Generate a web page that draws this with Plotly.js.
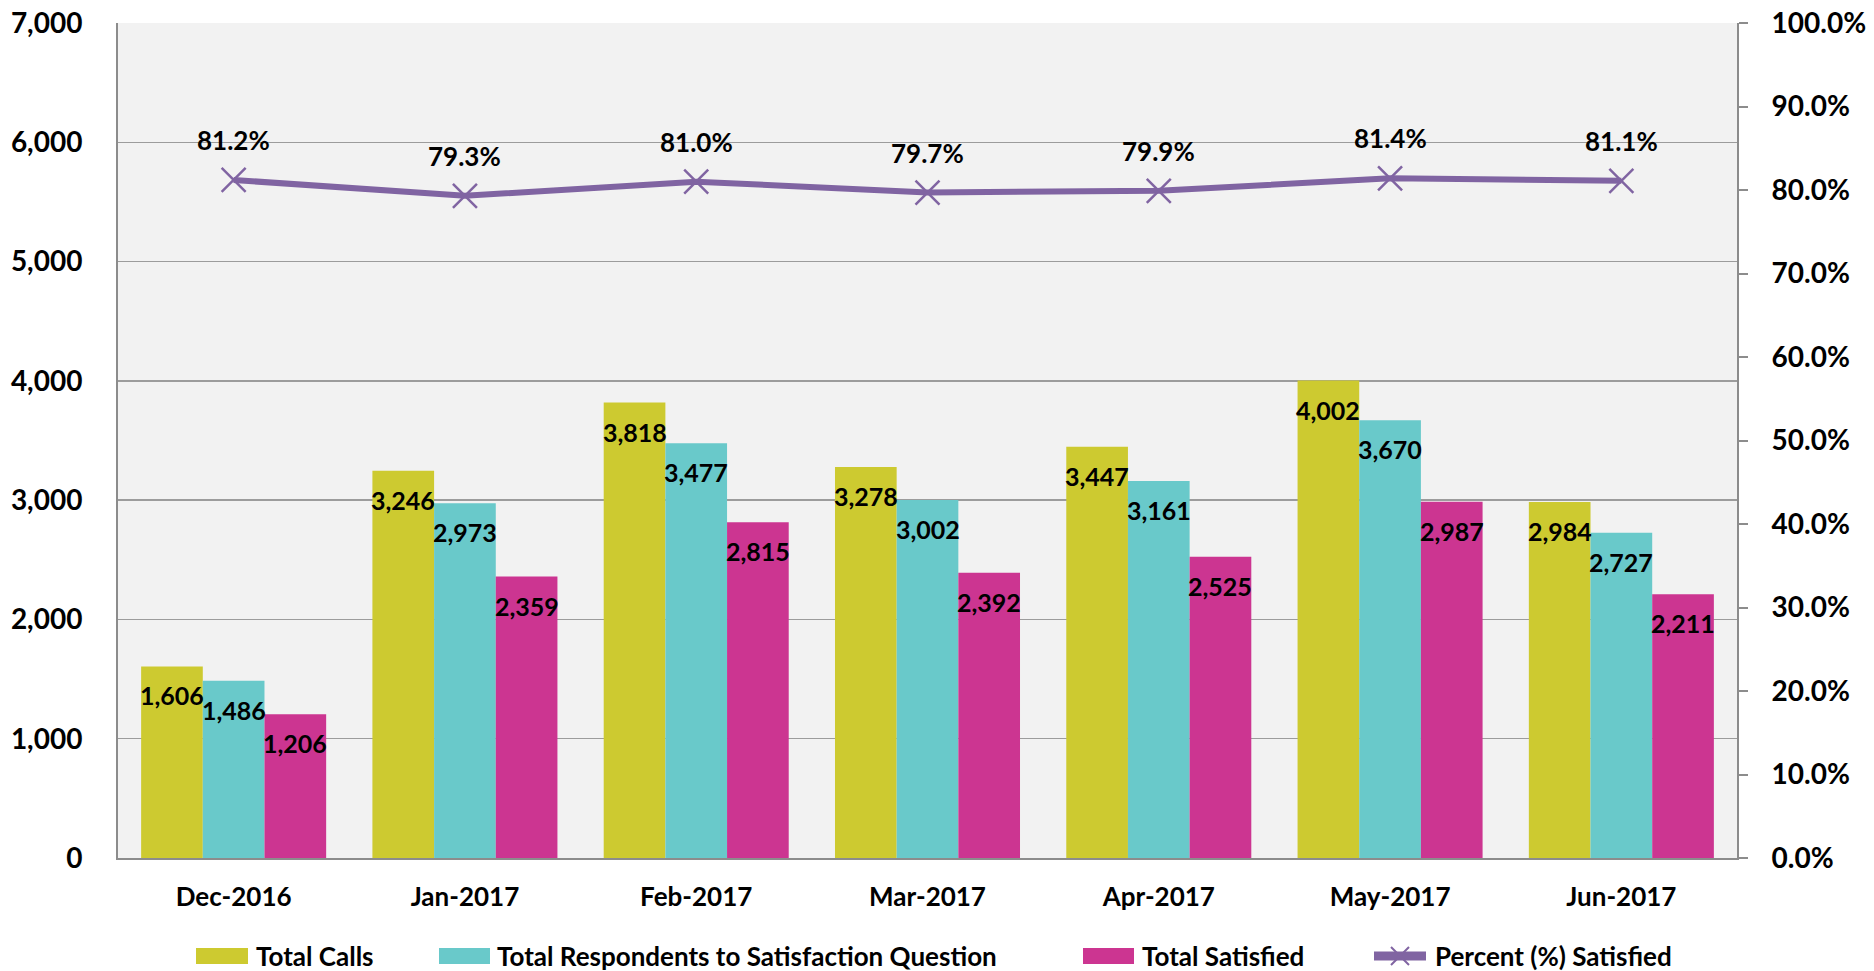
<!DOCTYPE html>
<html>
<head>
<meta charset="utf-8">
<script src="https://cdn.plot.ly/plotly-3.0.1.min.js"></script>
<style>html,body{margin:0;padding:0;background:#fff;}#chart{width:1874px;height:971px;}</style>
</head>
<body>
<div id="chart"></div>
<script>
const months = ["Dec-2016","Jan-2017","Feb-2017","Mar-2017","Apr-2017","May-2017","Jun-2017"];
const totalCalls = [1606, 3246, 3818, 3278, 3447, 4002, 2984];
const totalRespondents = [1486, 2973, 3477, 3002, 3161, 3670, 2727];
const totalSatisfied = [1206, 2359, 2815, 2392, 2525, 2987, 2211];
const percentSatisfied = [0.812, 0.793, 0.810, 0.797, 0.799, 0.814, 0.811];
const leftTicks = [0, 1000, 2000, 3000, 4000, 5000, 6000, 7000];
const rightTicks = [0, 0.1, 0.2, 0.3, 0.4, 0.5, 0.6, 0.7, 0.8, 0.9, 1.0];
const seriesNames = ["Total Calls", "Total Respondents to Satisfaction Question", "Total Satisfied", "Percent (%) Satisfied"];

const FONT = "Lato, 'Open Sans', sans-serif";
const colors = ["#CDCA30", "#69C9CA", "#CC3591"];
const PURPLE = "#8064A2";
const barValues = [totalCalls, totalRespondents, totalSatisfied];

// plot-area geometry in pixels (for the hand-placed legend)
const W = 1874, H = 971, ML = 118, MR = 137, MT = 23, MB = 113;
const PW = W - ML - MR, PH = H - MT - MB;
const px = x => (x - ML) / PW;
const py = y => (H - MB - y) / PH;

const traces = barValues.map((vals, k) => ({
  type: "bar", name: seriesNames[k], x: months, y: vals,
  marker: {color: colors[k], line: {width: 0}},
  showlegend: false
}));
traces.push({
  type: "scatter", mode: "lines+markers", name: seriesNames[3],
  x: months, y: percentSatisfied, yaxis: "y2", showlegend: false,
  line: {color: PURPLE, width: 6},
  marker: {symbol: "x-thin-open", size: 24, color: PURPLE, line: {color: PURPLE, width: 2.5}}
});

const fmt = v => v.toLocaleString("en-US");
const annotations = [];
const shapes = [];
const bargap = 0.2, n = barValues.length, bw = (1 - bargap) / n;
barValues.forEach((vals, k) => {
  vals.forEach((v, i) => {
    annotations.push({
      x: i + (k - (n - 1) / 2) * bw, y: v, xref: "x", yref: "y",
      text: fmt(v), showarrow: false, yshift: -29,
      font: {family: FONT, size: 25, color: "#000", weight: 700}
    });
  });
});
percentSatisfied.forEach((v, i) => {
  annotations.push({
    x: i, y: v, xref: "x", yref: "y2",
    text: (v * 100).toFixed(1) + "%", showarrow: false, yshift: 40,
    font: {family: FONT, size: 26, color: "#000", weight: 700}
  });
});

// Legend (drawn to match the reference swatch sizes)
const legendY = 956;
const swatches = [[196, 248, 254], [439, 490, 495], [1083, 1134, 1140]];
swatches.forEach((s, k) => {
  shapes.push({type: "rect", xref: "paper", yref: "paper",
    x0: px(s[0]), x1: px(s[1]), y0: py(legendY + 8), y1: py(legendY - 8),
    fillcolor: colors[k], line: {width: 0}, layer: "above"});
  annotations.push({xref: "paper", yref: "paper", x: px(s[2]), y: py(legendY),
    xanchor: "left", yanchor: "middle", text: seriesNames[k], showarrow: false,
    font: {family: FONT, size: 26, color: "#000", weight: 700}});
});
shapes.push({type: "line", xref: "paper", yref: "paper",
  x0: px(1374), x1: px(1426), y0: py(legendY), y1: py(legendY),
  line: {color: PURPLE, width: 9}, layer: "above"});
shapes.push({type: "path", xref: "paper", yref: "paper", xsizemode: "pixel", ysizemode: "pixel",
  xanchor: px(1400), yanchor: py(legendY), path: "M-9,-9L9,9M-9,9L9,-9",
  line: {color: PURPLE, width: 2}, layer: "above"});
annotations.push({xref: "paper", yref: "paper", x: px(1433), y: py(legendY),
  xanchor: "left", yanchor: "middle", text: seriesNames[3], showarrow: false,
  font: {family: FONT, size: 26, color: "#000", weight: 700}});

const layout = {
  width: W, height: H,
  margin: {l: ML, r: MR, t: MT, b: MB},
  paper_bgcolor: "#FFFFFF", plot_bgcolor: "#F2F2F2",
  barmode: "group", bargap: bargap, bargroupgap: 0,
  showlegend: false,
  font: {family: FONT, size: 24, color: "#000", weight: 700},
  xaxis: {
    type: "category", showline: true, linecolor: "#8C8C8C", linewidth: 2,
    ticks: "", ticklabelstandoff: 15, tickfont: {family: FONT, size: 26, weight: 700},
    showgrid: false
  },
  yaxis: {
    range: [0, 7000], tickvals: leftTicks, ticktext: leftTicks.map(fmt),
    showline: true, linecolor: "#8C8C8C", linewidth: 2,
    showgrid: true, gridcolor: "#9C9C9C", gridwidth: 1.5,
    ticks: "", ticklabelstandoff: 28, tickfont: {family: FONT, size: 28, weight: 700},
    zeroline: false
  },
  yaxis2: {
    overlaying: "y", side: "right", range: [0, 1],
    tickvals: rightTicks, ticktext: rightTicks.map(v => (v * 100).toFixed(1) + "%"),
    showline: true, linecolor: "#8C8C8C", linewidth: 2,
    ticks: "outside", ticklen: 9, tickwidth: 2, tickcolor: "#8C8C8C",
    ticklabelstandoff: 18, showgrid: false, zeroline: false,
    tickfont: {family: FONT, size: 28, weight: 700}
  },
  shapes: shapes,
  annotations: annotations
};

Plotly.newPlot("chart", traces, layout, {displayModeBar: false, staticPlot: true});
</script>
</body>
</html>
